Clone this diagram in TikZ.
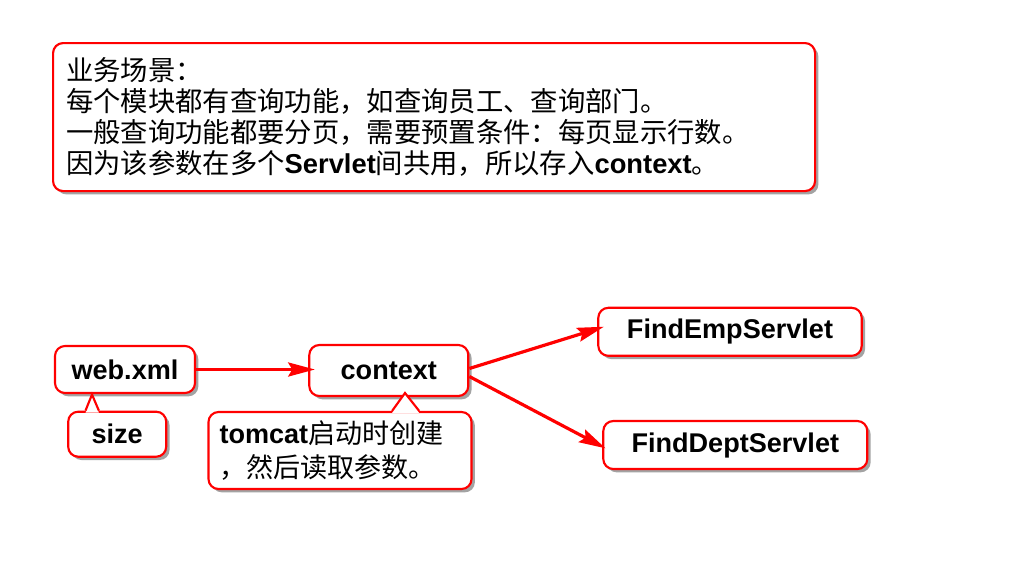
\documentclass[tikz,border=0pt]{standalone}
\usepackage{fontspec}
\setmainfont{Liberation Sans}
\newfontfamily\cjk{Noto Sans CJK SC}
\newcommand\zh[1]{{\cjk\mdseries #1}}
\usetikzlibrary{shadows,arrows.meta}
\definecolor{boxred}{RGB}{255,0,0}
\tikzset{
 box/.style={draw=boxred, line width=1.6pt, rounded corners=7.5pt, fill=white,
   drop shadow={shadow xshift=2.5pt,shadow yshift=-2.5pt,opacity=.6,fill=black!60},
   font=\fontsize{20.3}{24}\selectfont\bfseries, inner sep=0pt},
 conn/.style={draw=boxred, line width=2.4pt, -{Stealth[length=20pt,width=10.5pt,inset=3pt]}},
 ptr/.style={draw=boxred, line width=1.6pt, line join=miter},
}
\begin{document}
\begin{tikzpicture}[x=0.75pt,y=-0.75pt]
\useasboundingbox (0,0) rectangle (1024,582);
\fill[white] (0,0) rectangle (1024,582);

\node[box, anchor=north west, minimum width=762*0.75pt, minimum height=148*0.75pt,
  text width=736*0.75pt, align=left, inner xsep=13*0.75pt,
  font=\fontsize{20.5}{23.25}\selectfont] (scene) at (52,42)
  {\zh{业务场景：}\\
   \zh{每个模块都有查询功能，如查询员工、查询部门。}\\
   \zh{一般查询功能都要分页，需要预置条件：每页显示行数。}\\
   \zh{因为该参数在多个}\textbf{Servlet}\zh{间共用，所以存入}\textbf{context}\zh{。}};

\node[box, minimum width=140*0.75pt, minimum height=47*0.75pt] (webxml) at (125,369.5) {web.xml};
\node[box, minimum width=98*0.75pt, minimum height=45*0.75pt] (size) at (117.2,434.2) {size};
\node[box, minimum width=159*0.75pt, minimum height=51*0.75pt] (context) at (388.8,370.5) {context};
\node[box, minimum width=263*0.75pt, minimum height=77*0.75pt, text width=241*0.75pt,
  align=left, inner xsep=11*0.75pt, font=\fontsize{20.3}{25.5}\selectfont] (tomcat) at (340,450.5)
  {\textbf{tomcat}\zh{启动时创建}\\\zh{，然后读取参数。}};
\node[box, minimum width=263.4*0.75pt, minimum height=48*0.75pt] (emp) at (730,331.8) {FindEmpServlet};
\node[box, minimum width=264*0.75pt, minimum height=48*0.75pt] (dept) at (735.3,445) {FindDeptServlet};

\coordinate (sizetip) at (92,394.5);
\fill[white] ([xshift=13.8pt,yshift=-1.5pt]size.north west) -- (sizetip) -- ([xshift=23.8pt,yshift=-1.5pt]size.north west) -- cycle;
\draw[ptr] ([xshift=13.8pt]size.north west) -- (sizetip) -- ([xshift=23.8pt]size.north west);

\coordinate (tomtip) at (405,393);
\fill[white] ([xshift=138.5pt,yshift=-1.5pt]tomcat.north west) -- (tomtip) -- ([xshift=158.8pt,yshift=-1.5pt]tomcat.north west) -- cycle;
\draw[ptr] ([xshift=138.5pt]tomcat.north west) -- (tomtip) -- ([xshift=158.8pt]tomcat.north west);

\draw[conn] (webxml.east) -- ([xshift=5pt]webxml.east -| context.west);
\draw[conn] ([yshift=1.5pt]context.east) -- ([xshift=5pt,yshift=3.8pt]emp.west);
\draw[conn] ([yshift=-4.5pt]context.east) -- ([xshift=2.5pt,yshift=-2.5pt]dept.west);
\end{tikzpicture}
\end{document}
